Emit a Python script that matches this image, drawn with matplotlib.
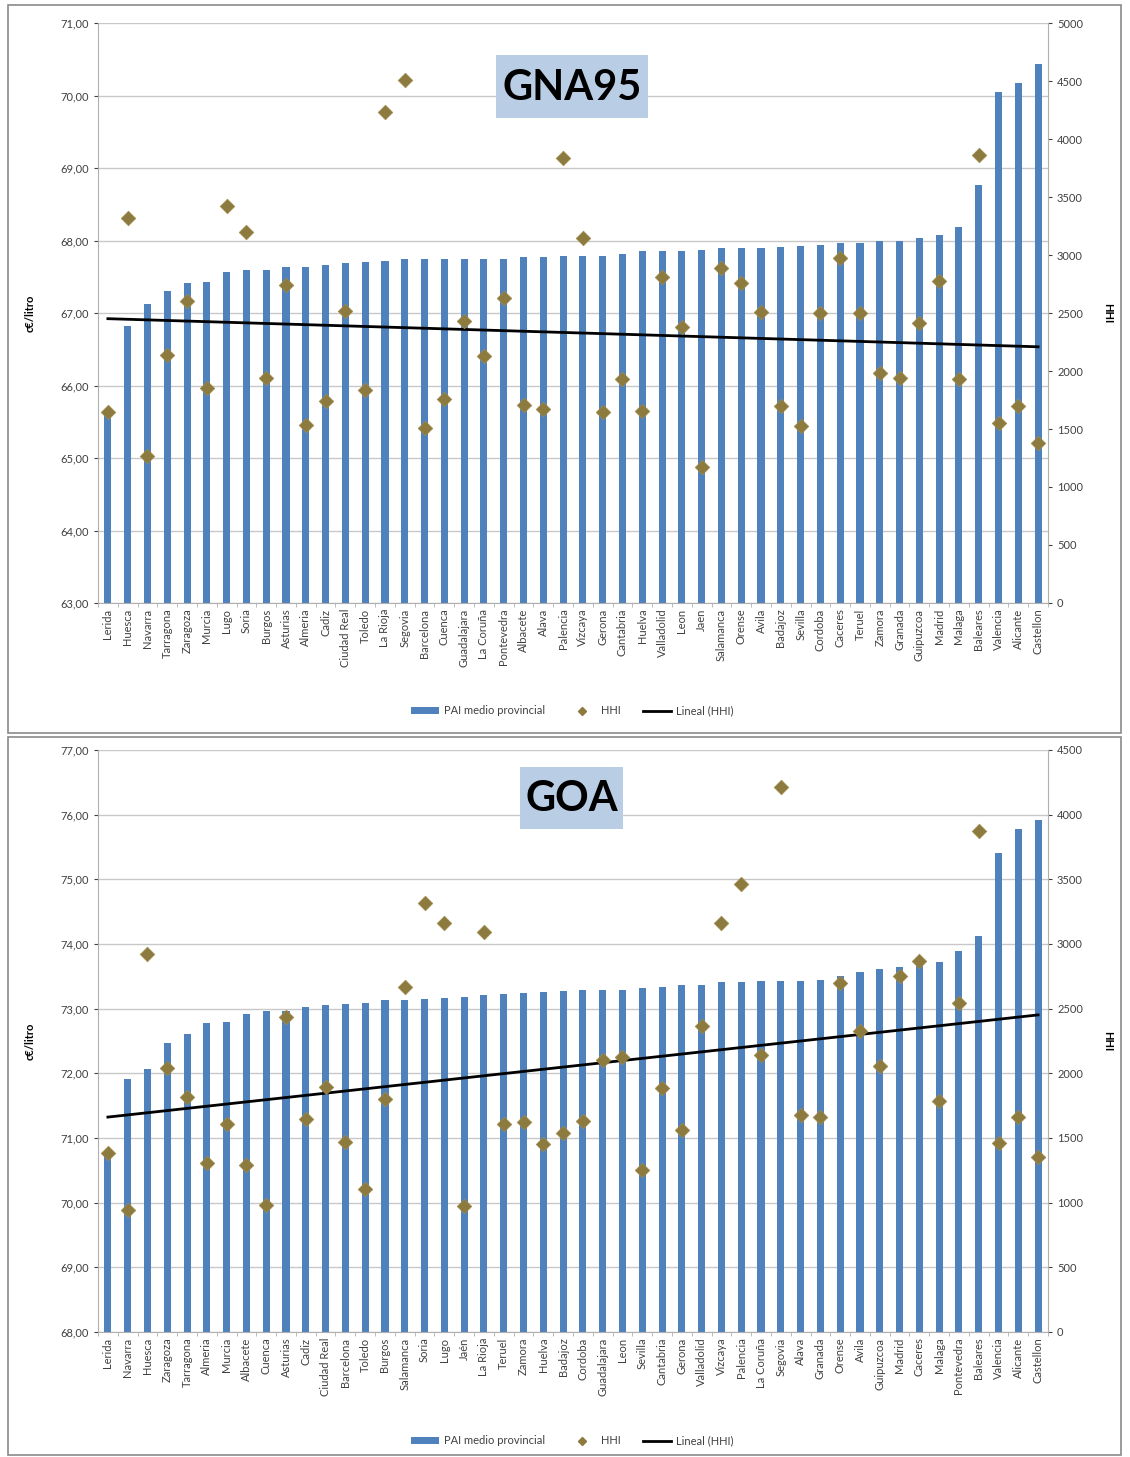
import matplotlib
matplotlib.use("Agg")
import matplotlib.pyplot as plt
import numpy as np
from matplotlib.patches import Rectangle, Patch
from matplotlib.lines import Line2D
from matplotlib.ticker import FuncFormatter, FixedLocator

plt.rcParams['font.family'] = ['Lato', 'DejaVu Sans']

top_names = ["Lerida", "Huesca", "Navarra", "Tarragona", "Zaragoza", "Murcia", "Lugo", "Soria",
             "Burgos", "Asturias", "Almeria", "Cadiz", "Ciudad Real", "Toledo", "La Rioja", "Segovia",
             "Barcelona", "Cuenca", "Guadalajara", "La Coruña", "Pontevedra", "Albacete", "Alava",
             "Palencia", "Vizcaya", "Gerona", "Cantabria", "Huelva", "Valladolid", "Leon", "Jaen",
             "Salamanca", "Orense", "Avila", "Badajoz", "Sevilla", "Cordoba", "Caceres", "Teruel",
             "Zamora", "Granada", "Guipuzcoa", "Madrid", "Malaga", "Baleares", "Valencia", "Alicante",
             "Castellon"]
top_pai = [65.65, 66.82, 67.13, 67.30, 67.42, 67.43, 67.57, 67.60, 67.60, 67.63, 67.64, 67.66,
           67.69, 67.70, 67.72, 67.74, 67.74, 67.74, 67.74, 67.75, 67.75, 67.77, 67.77, 67.78,
           67.78, 67.79, 67.82, 67.85, 67.86, 67.86, 67.87, 67.90, 67.90, 67.90, 67.91, 67.92,
           67.94, 67.96, 67.96, 67.99, 68.00, 68.03, 68.08, 68.18, 68.76, 70.05, 70.17, 70.44]
top_hhi = [1650, 3320, 1265, 2135, 2605, 1850, 3420, 3200, 1940, 2740, 1535, 1745, 2515, 1840,
           4235, 4505, 1510, 1760, 2435, 2125, 2630, 1710, 1675, 3840, 3150, 1645, 1935, 1655,
           2810, 2380, 1170, 2890, 2760, 2510, 1700, 1525, 2500, 2975, 2500, 1980, 1940, 2410,
           2775, 1935, 3865, 1555, 1700, 1380]

bot_names = ["Lerida", "Navarra", "Huesca", "Zaragoza", "Tarragona", "Almeria", "Murcia", "Albacete",
             "Cuenca", "Asturias", "Cadiz", "Ciudad Real", "Barcelona", "Toledo", "Burgos", "Salamanca",
             "Soria", "Lugo", "Jaén", "La Rioja", "Teruel", "Zamora", "Huelva", "Badajoz", "Cordoba",
             "Guadalajara", "Leon", "Sevilla", "Cantabria", "Gerona", "Valladolid", "Vizcaya",
             "Palencia", "La Coruña", "Segovia", "Alava", "Granada", "Orense", "Avila", "Guipuzcoa",
             "Madrid", "Caceres", "Malaga", "Pontevedra", "Baleares", "Valencia", "Alicante",
             "Castellon"]
bot_pai = [70.75, 71.92, 72.06, 72.47, 72.61, 72.78, 72.79, 72.91, 72.97, 72.97, 73.02, 73.06,
           73.07, 73.09, 73.13, 73.14, 73.15, 73.17, 73.18, 73.21, 73.22, 73.24, 73.26, 73.28,
           73.29, 73.29, 73.29, 73.32, 73.34, 73.36, 73.37, 73.41, 73.41, 73.43, 73.43, 73.43,
           73.45, 73.50, 73.57, 73.62, 73.64, 73.68, 73.72, 73.89, 74.12, 75.41, 75.78, 75.91]
bot_hhi = [1385, 945, 2925, 2040, 1820, 1305, 1605, 1290, 980, 2435, 1645, 1895, 1470, 1105,
           1800, 2665, 3320, 3160, 975, 3090, 1605, 1625, 1455, 1535, 1635, 2105, 2130, 1255,
           1885, 1565, 2365, 3165, 3465, 2140, 4215, 1680, 1660, 2700, 2325, 2060, 2750, 2870,
           1785, 2545, 3870, 1465, 1665, 1350]

BAR = '#4f81bd'
DIA = '#8c7a3e'
TXT = '#404040'
GRID = '#c8c8c8'

W, H = 1130, 1457
fig = plt.figure(figsize=(W / 100, H / 100), dpi=100)
fig.patch.set_facecolor('white')


def fx(px):
    return px / W


def fy(py):
    return 1 - py / H


# chart-area frames
for (y0, y1) in [(5, 733), (737, 1455)]:
    fig.patches.append(Rectangle((fx(8), fy(y1)), fx(1121) - fx(8), fy(y0) - fy(y1),
                                 transform=fig.transFigure, fill=False,
                                 edgecolor='#8a8a8a', linewidth=1.2))


def panel(top_px, bot_px, names, pai, hhi, ylim, ystep, y2max, title, box, leg_y):
    ax = fig.add_axes([fx(98), fy(bot_px), fx(1048) - fx(98), fy(top_px) - fy(bot_px)])
    x = np.arange(len(names))
    ax.bar(x, np.array(pai) - ylim[0], bottom=ylim[0], width=0.36, color=BAR, zorder=2)
    ax.set_xlim(-0.5, len(names) - 0.5)
    ax.set_ylim(*ylim)
    ax.set_yticks(np.arange(ylim[0], ylim[1] + 0.001, ystep))
    ax.yaxis.set_major_formatter(FuncFormatter(lambda v, p: f"{v:.2f}".replace('.', ',')))
    ax.grid(axis='y', color=GRID, linewidth=1.0, zorder=0)
    ax.set_axisbelow(True)
    ax.set_xticks(x)
    ax.set_xticklabels(names, rotation=90, fontsize=8, color=TXT)
    ax.xaxis.set_minor_locator(FixedLocator(np.arange(-0.5, len(names), 1.0)))
    ax.tick_params(axis='x', which='major', length=0, pad=4)
    ax.tick_params(axis='x', which='minor', length=3, color='#b0b0b0')
    ax.tick_params(axis='y', labelsize=8, colors=TXT, length=3)
    for s in ['top', 'right']:
        ax.spines[s].set_visible(False)
    for s in ['left', 'bottom']:
        ax.spines[s].set_color('#b0b0b0')
    ax.set_ylabel('c€/litro', fontsize=8, fontweight='bold', color='black', labelpad=18)

    ax2 = ax.twinx()
    ax2.scatter(x, hhi, marker='D', s=55, color=DIA, edgecolors='#a08a4a', linewidths=0.5, zorder=4)
    coef = np.polyfit(x, hhi, 1)
    ax2.plot(x, np.polyval(coef, x), color='black', linewidth=2.0, zorder=3)
    ax2.set_ylim(0, y2max)
    ax2.set_yticks(np.arange(0, y2max + 1, 500))
    ax2.tick_params(axis='y', labelsize=8, colors=TXT, length=3)
    for s in ['top', 'left', 'bottom']:
        ax2.spines[s].set_visible(False)
    ax2.spines['right'].set_color('#b0b0b0')
    ax2.set_ylabel('HHI', fontsize=8, fontweight='bold', rotation=270, labelpad=22)

    bx0, by0, bx1, by1 = box
    fig.patches.append(Rectangle((fx(bx0), fy(by1)), fx(bx1) - fx(bx0), fy(by0) - fy(by1),
                                 transform=fig.transFigure, facecolor='#b9cde5',
                                 edgecolor='none', zorder=5))
    fig.text(fx((bx0 + bx1) / 2), fy((by0 + by1) / 2 + 1), title,
             ha='center', va='center', fontsize=30, fontweight='bold', color='black', zorder=6)

    handles = [Patch(facecolor=BAR, edgecolor='none'),
               Line2D([], [], marker='D', linestyle='none', color=DIA, markersize=4),
               Line2D([], [], color='black', linewidth=2)]
    labels = ['PAI medio provincial', 'HHI', 'Lineal (HHI)']
    fig.legend(handles, labels, loc='center', bbox_to_anchor=(fx(572), fy(leg_y)), ncol=3,
               frameon=False, fontsize=8, handlelength=2.6, handleheight=0.5,
               columnspacing=2.0, handletextpad=0.4, labelcolor=TXT)
    return ax, ax2


panel(23, 603, top_names, top_pai, top_hhi, (63, 71), 1, 5000, 'GNA95', (496, 55, 648, 118), 711)
panel(750, 1332, bot_names, bot_pai, bot_hhi, (68, 77), 1, 4500, 'GOA', (520, 767, 623, 829), 1441)

fig.savefig('out.png', dpi=100)
